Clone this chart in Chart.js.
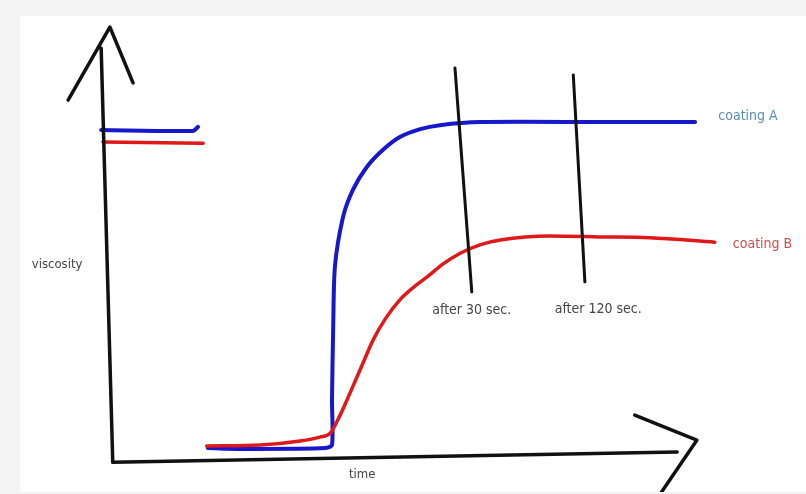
<!DOCTYPE html>
<html>
<head>
<meta charset="utf-8">
<script src="https://cdn.jsdelivr.net/npm/chart.js@4.4.1/dist/chart.umd.min.js"></script>
<style>
  html, body { margin: 0; padding: 0; background: #f4f4f4; }
  #wrap { position: absolute; left: 20px; top: 16px; width: 786px; height: 476px; background: #fff; }
</style>
</head>
<body>
<div id="wrap"><canvas id="viscositychart" width="786" height="476"></canvas></div>
<script>
// sketch of viscosity vs time, arbitrary units
const coatingA = [
  [0.2, 75], [16.0, 74.8], [16.9, 75.7], null,
  [18.6, 2.7], [25.9, 2.5], [38.8, 2.7], [40.0, 3.4], [40.0, 13.6], [40.2, 29.5],
  [40.5, 43.9], [41.9, 55.2], [43.6, 61.4], [46.0, 66.6], [48.8, 70.5], [51.7, 73.4],
  [55.2, 75.2], [58.6, 76.1], [65.5, 76.8], [86.2, 76.8], [102.6, 76.8]
]
const coatingB = [
  [0.5, 72.3], [17.8, 72.0], null,
  [18.4, 3.2], [27.6, 3.4], [34.5, 4.3], [37.9, 5.2], [39.7, 6.1], [41.4, 10.2],
  [43.1, 15.2], [45.2, 21.6], [47.1, 27.3], [49.3, 32.3], [51.7, 36.4], [54.1, 39.3],
  [56.4, 41.6], [59.1, 44.5], [62.1, 47.0], [65.5, 48.9], [69.0, 50.0], [77.6, 50.9],
  [86.2, 50.7], [94.8, 50.5], [106.0, 49.5]
]
const after30 = [[61.2, 89.1], [64.1, 38.2]]
const after120 = [[81.6, 87.5], [83.6, 40.5]]
const yAxisArrow = [[2.2, -0.5], [0.2, 93.6], null, [-5.5, 81.8], [1.7, 98.4], [5.7, 85.7]]
const xAxisArrow = [[2.2, -0.5], [99.5, 1.8], null, [92.2, 10.2], [102.9, 4.5], [96.6, -7.7]]

const labels = [
  { text: 'coating A', x: 106.6, y: 78.0, color: '#5b8db0', size: 14, align: 'left' },
  { text: 'coating B', x: 109.1, y: 49.1, color: '#c8504a', size: 14, align: 'left' },
  { text: 'after 30 sec.', x: 64.1, y: 33.9, color: '#444', size: 14, align: 'center' },
  { text: 'after 120 sec.', x: 85.9, y: 34.3, color: '#444', size: 14, align: 'center' },
  { text: 'viscosity', x: -7.4, y: 44.3, color: '#444', size: 13, align: 'center' },
  { text: 'time', x: 45.2, y: -3.4, color: '#444', size: 13, align: 'center' }
]

const toPts = arr => arr.map(p => (p ? { x: p[0], y: p[1] } : { x: null, y: null }))

function line (data, color, width, tension, mode) {
  return {
    data: toPts(data),
    borderColor: color,
    borderWidth: width,
    pointRadius: 0,
    tension: tension,
    cubicInterpolationMode: mode || 'default',
    fill: false,
    clip: false,
    spanGaps: false,
    borderCapStyle: 'round',
    borderJoinStyle: 'round'
  }
}

const textPlugin = {
  id: 'sketchText',
  afterDatasetsDraw (chart) {
    const { ctx, scales } = chart
    ctx.save()
    ctx.textBaseline = 'middle'
    labels.forEach(l => {
      ctx.font = l.size + 'px "DejaVu Sans Condensed", "DejaVu Sans"'
      ctx.fillStyle = l.color
      ctx.textAlign = l.align
      ctx.fillText(l.text, scales.x.getPixelForValue(l.x), scales.y.getPixelForValue(l.y))
    })
    ctx.restore()
  }
}

new Chart(document.getElementById('viscositychart'), {
  type: 'line',
  data: {
    datasets: [
      line(yAxisArrow, '#111', 3.5, 0),
      line(xAxisArrow, '#111', 3.5, 0),
      line(after30, '#111', 3, 0),
      line(after120, '#111', 3, 0),
      line(coatingB, '#e01818', 3.5, 0.4, 'monotone'),
      line(coatingA, '#1717cc', 4, 0.25)
    ]
  },
  options: {
    responsive: false,
    animation: false,
    layout: { padding: { left: 80, right: 10, top: 4, bottom: 32 } },
    plugins: { legend: { display: false }, tooltip: { enabled: false } },
    scales: {
      x: { type: 'linear', min: 0, max: 120, display: false },
      y: { type: 'linear', min: 0, max: 100, display: false }
    }
  },
  plugins: [textPlugin]
})
</script>
</body>
</html>
